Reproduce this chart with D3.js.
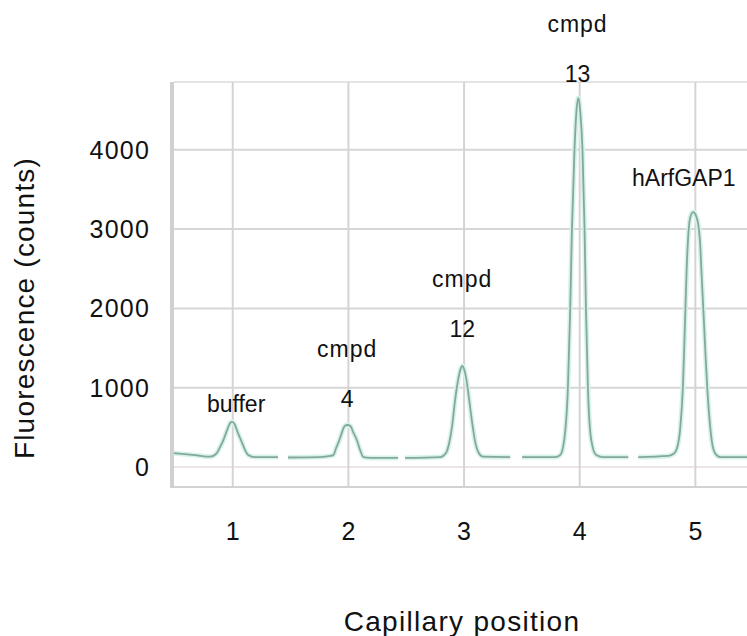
<!DOCTYPE html>
<html>
<head>
<meta charset="utf-8">
<script src="https://cdn.jsdelivr.net/npm/d3@7"></script>
<style>
  html, body { margin: 0; padding: 0; background: #fff; }
  svg { display: block; font-family: "Liberation Sans", Arial, sans-serif; }
</style>
</head>
<body>
<div id="chart"></div>
<script>
// ---- data ----
const xTicks = [1, 2, 3, 4, 5];
const yTicks = [0, 1000, 2000, 3000, 4000];
const xTitle = "Capillary position";
const yTitle = "Fluorescence (counts)";

// trace segments: [capillary position, counts]
const segment1 = [[0.492,175],[0.674,150],[0.804,130],[0.862,175],[0.890,250],[0.919,340],[0.951,465],[0.977,555],[0.997,570],[1.016,540],[1.042,440],[1.078,315],[1.106,215],[1.135,150],[1.193,125],[1.392,125]];
const segment2 = [[1.478,120],[1.755,125],[1.842,140],[1.870,150],[1.894,240],[1.922,340],[1.945,440],[1.967,515],[1.991,530],[2.019,515],[2.041,440],[2.073,340],[2.101,215],[2.130,125],[2.188,115],[2.430,115]];
const segment3 = [[2.490,115],[2.793,125],[2.845,180],[2.871,300],[2.897,520],[2.923,850],[2.949,1100],[2.971,1240],[2.986,1275],[3.001,1230],[3.023,1080],[3.044,850],[3.070,560],[3.096,320],[3.126,180],[3.165,130],[3.399,125]];
const segment4 = [[3.502,125],[3.788,125],[3.831,150],[3.866,340],[3.898,1000],[3.918,2000],[3.933,3000],[3.955,4000],[3.974,4525],[3.990,4655],[4.005,4475],[4.024,4000],[4.042,3000],[4.054,2000],[4.071,1000],[4.100,340],[4.143,150],[4.195,125],[4.420,125]];
const segment5 = [[4.506,125],[4.766,140],[4.815,170],[4.840,230],[4.870,500],[4.892,1000],[4.910,1800],[4.925,2500],[4.940,2950],[4.958,3160],[4.982,3215],[5.005,3170],[5.025,3060],[5.040,2850],[5.055,2400],[5.072,1900],[5.090,1350],[5.105,950],[5.125,560],[5.145,300],[5.172,170],[5.215,125],[5.449,125]];
const segments = [segment1, segment2, segment3, segment4, segment5];

// peak annotations: text lines, x position, counts at baseline of last line
const annotLines = [["buffer"], ["cmpd", "4"], ["cmpd", "12"], ["cmpd", "13"], ["hArfGAP1"]];
const annotX = [1.029, 1.989, 2.984, 3.981, 4.900];
const annotY = [694, 757, 1639, 4855, 3543];

// ---- layout ----
const W = 747, H = 636;
const mLeft = 174, mRight = 760, mTop = 82, mBottom = 487;

const svg = d3.select("#chart").append("svg").attr("width", W).attr("height", H);
svg.append("rect").attr("width", W).attr("height", H).attr("fill", "#fff");

const x = d3.scaleLinear().domain([0.492, 5.559]).range([mLeft, mRight]);
const y = d3.scaleLinear().domain([-252, 4855]).range([mBottom, mTop]);

const grid = svg.append("g");
// horizontal grid
grid.selectAll("line.h").data(yTicks.filter(d => d > 0)).join("line")
  .attr("x1", mLeft).attr("x2", W).attr("y1", d => y(d)).attr("y2", d => y(d))
  .attr("stroke", "#d6d6d6").attr("stroke-width", 2);
grid.append("line").attr("x1", mLeft).attr("x2", W).attr("y1", y(0)).attr("y2", y(0))
  .attr("stroke", "#ece4e6").attr("stroke-width", 2);
grid.append("line").attr("x1", mLeft).attr("x2", W).attr("y1", mTop).attr("y2", mTop)
  .attr("stroke", "#e4e4e4").attr("stroke-width", 2);
grid.append("line").attr("x1", mLeft).attr("x2", W).attr("y1", mBottom).attr("y2", mBottom)
  .attr("stroke", "#d2d2d2").attr("stroke-width", 2);
// vertical grid
grid.selectAll("line.v").data(xTicks).join("line")
  .attr("x1", d => x(d)).attr("x2", d => x(d)).attr("y1", mTop).attr("y2", mBottom)
  .attr("stroke", "#d4d4d4").attr("stroke-width", 2);
grid.append("line").attr("x1", mLeft - 2).attr("x2", mLeft - 2).attr("y1", mTop).attr("y2", mBottom + 1)
  .attr("stroke", "#d0d0d0").attr("stroke-width", 4);

// trace
const line = d3.line().x(d => x(d[0])).y(d => y(d[1])).curve(d3.curveMonotoneX);
const tr = svg.append("g");
tr.selectAll("path.halo").data(segments).join("path")
  .attr("d", line).attr("fill", "none").attr("stroke", "#d6f3ea").attr("stroke-width", 5)
  .attr("stroke-linejoin", "round");
tr.selectAll("path.main").data(segments).join("path")
  .attr("d", line).attr("fill", "none").attr("stroke", "#86a89b").attr("stroke-width", 1.8)
  .attr("stroke-linejoin", "round");

// y axis labels
svg.append("g").selectAll("text").data(yTicks).join("text")
  .attr("x", 150).attr("y", d => y(d) + 9)
  .attr("text-anchor", "end").attr("font-size", 25).attr("letter-spacing", 1.2).attr("fill", "#111")
  .text(d => d);

// x axis labels
svg.append("g").selectAll("text").data(xTicks).join("text")
  .attr("x", d => x(d)).attr("y", 540)
  .attr("text-anchor", "middle").attr("font-size", 25).attr("fill", "#111")
  .text(d => d);

// titles
svg.append("text").attr("x", 462).attr("y", 631).attr("text-anchor", "middle")
  .attr("font-size", 28).attr("letter-spacing", 1.3).attr("fill", "#111").text(xTitle);
svg.append("text").attr("transform", "translate(34,308) rotate(-90)").attr("text-anchor", "middle")
  .attr("font-size", 28).attr("letter-spacing", 1.2).attr("fill", "#111").text(yTitle);

// annotations
const ann = svg.append("g");
annotLines.forEach((lines, i) => {
  const n = lines.length;
  lines.forEach((t, j) => {
    ann.append("text")
      .attr("x", x(annotX[i]))
      .attr("y", y(annotY[i]) - (n - 1 - j) * 50)
      .attr("text-anchor", "middle").attr("font-size", 23).attr("letter-spacing", t === "cmpd" ? 1 : 0)
      .attr("fill", "#111")
      .text(t);
  });
});
</script>
</body>
</html>
